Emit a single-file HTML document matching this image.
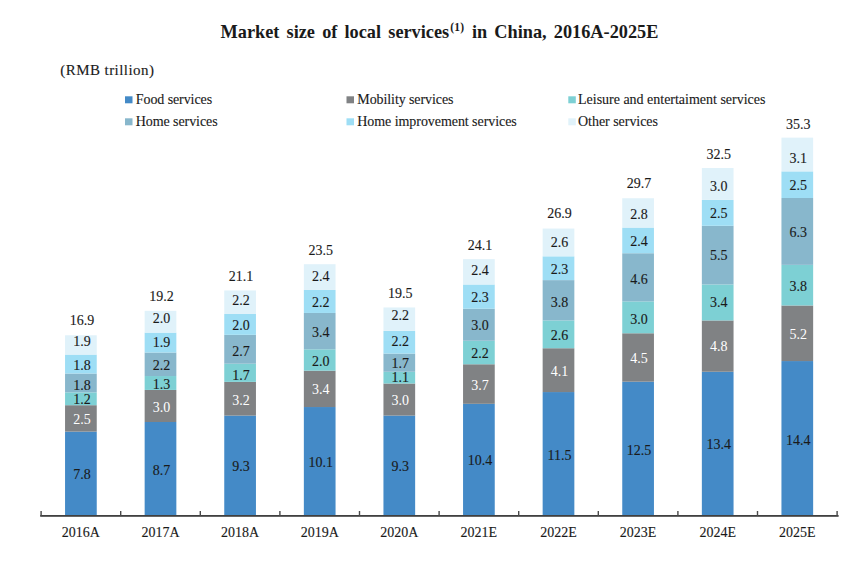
<!DOCTYPE html>
<html><head><meta charset="utf-8"><style>
html,body{margin:0;padding:0;background:#fff;width:865px;height:561px;overflow:hidden}
svg{display:block}
text{font-family:"Liberation Serif",serif;fill:#1a1a1a}
.v,.c,.l,.u{stroke:#1a1a1a;stroke-width:0.12px}

.v{font-size:14px;text-anchor:middle}
.vw{font-size:14px;text-anchor:middle;fill:#fff}
.c{font-size:14px;text-anchor:middle}
.l{font-size:14px}
.ti{font-size:18.3px;font-weight:bold;word-spacing:2.6px}
.u{font-size:15px}
</style></head><body>
<svg width="865" height="561" viewBox="0 0 865 561">
<text x="220.5" y="37.8" class="ti">Market size of local services</text>
<text x="450.2" y="30.6" class="ti" style="font-size:11.5px" textLength="14" lengthAdjust="spacing">(1)</text>
<text x="471.9" y="37.8" class="ti">in China, 2016A-2025E</text>
<text x="60.3" y="74.7" class="u" textLength="93.6" lengthAdjust="spacing">(RMB trillion)</text>
<rect x="65.05" y="431.62" width="31.70" height="83.38" fill="#448AC7"/>
<text x="81.90" y="479.01" class="v">7.8</text>
<rect x="65.05" y="405.19" width="31.70" height="26.43" fill="#808284"/>
<text x="81.90" y="424.06" class="vw">2.5</text>
<rect x="65.05" y="392.37" width="31.70" height="12.83" fill="#7DD0D4"/>
<text x="81.90" y="404.28" class="v">1.2</text>
<rect x="65.05" y="373.52" width="31.70" height="18.84" fill="#88B7CC"/>
<text x="81.90" y="390.04" class="v">1.8</text>
<rect x="65.05" y="354.58" width="31.70" height="18.94" fill="#9EDEF5"/>
<text x="81.90" y="369.90" class="v">1.8</text>
<rect x="65.05" y="335.27" width="31.70" height="19.31" fill="#E0F2FA"/>
<text x="81.90" y="345.63" class="v">1.9</text>
<text x="81.90" y="325.17" class="v">16.9</text>
<text x="80.90" y="537" class="c">2016A</text>
<rect x="144.65" y="422.00" width="31.70" height="93.00" fill="#448AC7"/>
<text x="161.50" y="474.70" class="v">8.7</text>
<rect x="144.65" y="389.93" width="31.70" height="32.07" fill="#808284"/>
<text x="161.50" y="412.16" class="vw">3.0</text>
<rect x="144.65" y="376.03" width="31.70" height="13.90" fill="#7DD0D4"/>
<text x="161.50" y="388.88" class="v">1.3</text>
<rect x="144.65" y="352.51" width="31.70" height="23.52" fill="#88B7CC"/>
<text x="161.50" y="370.07" class="v">2.2</text>
<rect x="144.65" y="332.60" width="31.70" height="19.91" fill="#9EDEF5"/>
<text x="161.50" y="346.96" class="v">1.9</text>
<rect x="144.65" y="310.82" width="31.70" height="21.78" fill="#E0F2FA"/>
<text x="161.50" y="323.31" class="v">2.0</text>
<text x="161.50" y="301.22" class="v">19.2</text>
<text x="160.50" y="537" class="c">2017A</text>
<rect x="224.25" y="415.58" width="31.70" height="99.42" fill="#448AC7"/>
<text x="241.10" y="471.49" class="v">9.3</text>
<rect x="224.25" y="381.88" width="31.70" height="33.71" fill="#808284"/>
<text x="241.10" y="404.68" class="vw">3.2</text>
<rect x="224.25" y="363.70" width="31.70" height="18.17" fill="#7DD0D4"/>
<text x="241.10" y="379.79" class="v">1.7</text>
<rect x="224.25" y="334.84" width="31.70" height="28.86" fill="#88B7CC"/>
<text x="241.10" y="355.87" class="v">2.7</text>
<rect x="224.25" y="313.96" width="31.70" height="20.88" fill="#9EDEF5"/>
<text x="241.10" y="329.55" class="v">2.0</text>
<rect x="224.25" y="290.44" width="31.70" height="23.52" fill="#E0F2FA"/>
<text x="241.10" y="305.40" class="v">2.2</text>
<text x="241.10" y="280.94" class="v">21.1</text>
<text x="240.10" y="537" class="c">2018A</text>
<rect x="303.85" y="407.03" width="31.70" height="107.97" fill="#448AC7"/>
<text x="320.70" y="467.22" class="v">10.1</text>
<rect x="303.85" y="370.69" width="31.70" height="36.35" fill="#808284"/>
<text x="320.70" y="394.36" class="vw">3.4</text>
<rect x="303.85" y="349.31" width="31.70" height="21.38" fill="#7DD0D4"/>
<text x="320.70" y="365.50" class="v">2.0</text>
<rect x="303.85" y="312.96" width="31.70" height="36.35" fill="#88B7CC"/>
<text x="320.70" y="336.73" class="v">3.4</text>
<rect x="303.85" y="289.94" width="31.70" height="23.02" fill="#9EDEF5"/>
<text x="320.70" y="306.80" class="v">2.2</text>
<rect x="303.85" y="264.19" width="31.70" height="25.76" fill="#E0F2FA"/>
<text x="320.70" y="281.21" class="v">2.4</text>
<text x="320.70" y="255.29" class="v">23.5</text>
<text x="319.70" y="537" class="c">2019A</text>
<rect x="383.45" y="415.58" width="31.70" height="99.42" fill="#448AC7"/>
<text x="400.30" y="471.49" class="v">9.3</text>
<rect x="383.45" y="383.51" width="31.70" height="32.07" fill="#808284"/>
<text x="400.30" y="405.45" class="vw">3.0</text>
<rect x="383.45" y="371.75" width="31.70" height="11.76" fill="#7DD0D4"/>
<text x="400.30" y="382.43" class="v">1.1</text>
<rect x="383.45" y="353.58" width="31.70" height="18.17" fill="#88B7CC"/>
<text x="400.30" y="367.87" class="v">1.7</text>
<rect x="383.45" y="330.86" width="31.70" height="22.72" fill="#9EDEF5"/>
<text x="400.30" y="346.32" class="v">2.2</text>
<rect x="383.45" y="307.44" width="31.70" height="23.42" fill="#E0F2FA"/>
<text x="400.30" y="320.20" class="v">2.2</text>
<text x="400.30" y="297.74" class="v">19.5</text>
<text x="399.30" y="537" class="c">2020A</text>
<rect x="463.05" y="403.82" width="31.70" height="111.18" fill="#448AC7"/>
<text x="479.90" y="465.11" class="v">10.4</text>
<rect x="463.05" y="364.27" width="31.70" height="39.55" fill="#808284"/>
<text x="479.90" y="389.85" class="vw">3.7</text>
<rect x="463.05" y="340.75" width="31.70" height="23.52" fill="#7DD0D4"/>
<text x="479.90" y="358.21" class="v">2.2</text>
<rect x="463.05" y="308.68" width="31.70" height="32.07" fill="#88B7CC"/>
<text x="479.90" y="330.42" class="v">3.0</text>
<rect x="463.05" y="284.50" width="31.70" height="24.19" fill="#9EDEF5"/>
<text x="479.90" y="301.59" class="v">2.3</text>
<rect x="463.05" y="259.14" width="31.70" height="25.36" fill="#E0F2FA"/>
<text x="479.90" y="274.87" class="v">2.4</text>
<text x="479.90" y="249.94" class="v">24.1</text>
<text x="478.90" y="537" class="c">2021E</text>
<rect x="542.65" y="392.06" width="31.70" height="122.94" fill="#448AC7"/>
<text x="559.50" y="460.23" class="v">11.5</text>
<rect x="542.65" y="348.24" width="31.70" height="43.83" fill="#808284"/>
<text x="559.50" y="376.25" class="vw">4.1</text>
<rect x="542.65" y="320.44" width="31.70" height="27.79" fill="#7DD0D4"/>
<text x="559.50" y="340.14" class="v">2.6</text>
<rect x="542.65" y="280.12" width="31.70" height="40.32" fill="#88B7CC"/>
<text x="559.50" y="306.73" class="v">3.8</text>
<rect x="542.65" y="256.33" width="31.70" height="23.79" fill="#9EDEF5"/>
<text x="559.50" y="273.93" class="v">2.3</text>
<rect x="542.65" y="228.54" width="31.70" height="27.79" fill="#E0F2FA"/>
<text x="559.50" y="246.54" class="v">2.6</text>
<text x="559.50" y="218.44" class="v">26.9</text>
<text x="558.50" y="537" class="c">2022E</text>
<rect x="622.25" y="381.68" width="31.70" height="133.32" fill="#448AC7"/>
<text x="639.10" y="455.39" class="v">12.5</text>
<rect x="622.25" y="333.27" width="31.70" height="48.41" fill="#808284"/>
<text x="639.10" y="362.52" class="vw">4.5</text>
<rect x="622.25" y="301.40" width="31.70" height="31.87" fill="#7DD0D4"/>
<text x="639.10" y="323.83" class="v">3.0</text>
<rect x="622.25" y="253.23" width="31.70" height="48.17" fill="#88B7CC"/>
<text x="639.10" y="283.71" class="v">4.6</text>
<rect x="622.25" y="227.57" width="31.70" height="25.66" fill="#9EDEF5"/>
<text x="639.10" y="246.40" class="v">2.4</text>
<rect x="622.25" y="198.24" width="31.70" height="29.33" fill="#E0F2FA"/>
<text x="639.10" y="218.60" class="v">2.8</text>
<text x="639.10" y="188.44" class="v">29.7</text>
<text x="638.10" y="537" class="c">2023E</text>
<rect x="701.85" y="371.75" width="31.70" height="143.25" fill="#448AC7"/>
<text x="718.70" y="448.58" class="v">13.4</text>
<rect x="701.85" y="320.44" width="31.70" height="51.31" fill="#808284"/>
<text x="718.70" y="350.70" class="vw">4.8</text>
<rect x="701.85" y="284.50" width="31.70" height="35.95" fill="#7DD0D4"/>
<text x="718.70" y="307.47" class="v">3.4</text>
<rect x="701.85" y="225.80" width="31.70" height="58.69" fill="#88B7CC"/>
<text x="718.70" y="260.30" class="v">5.5</text>
<rect x="701.85" y="199.88" width="31.70" height="25.92" fill="#9EDEF5"/>
<text x="718.70" y="217.94" class="v">2.5</text>
<rect x="701.85" y="168.01" width="31.70" height="31.87" fill="#E0F2FA"/>
<text x="718.70" y="190.84" class="v">3.0</text>
<text x="718.70" y="158.81" class="v">32.5</text>
<text x="717.70" y="537" class="c">2024E</text>
<rect x="781.45" y="361.06" width="31.70" height="153.94" fill="#448AC7"/>
<text x="798.30" y="444.83" class="v">14.4</text>
<rect x="781.45" y="305.48" width="31.70" height="55.59" fill="#808284"/>
<text x="798.30" y="339.27" class="vw">5.2</text>
<rect x="781.45" y="264.85" width="31.70" height="40.62" fill="#7DD0D4"/>
<text x="798.30" y="291.16" class="v">3.8</text>
<rect x="781.45" y="198.01" width="31.70" height="66.85" fill="#88B7CC"/>
<text x="798.30" y="237.18" class="v">6.3</text>
<rect x="781.45" y="171.38" width="31.70" height="26.62" fill="#9EDEF5"/>
<text x="798.30" y="189.64" class="v">2.5</text>
<rect x="781.45" y="137.64" width="31.70" height="33.74" fill="#E0F2FA"/>
<text x="798.30" y="163.21" class="v">3.1</text>
<text x="798.30" y="129.14" class="v">35.3</text>
<text x="797.30" y="537" class="c">2025E</text>
<rect x="40.2" y="515" width="798.4" height="1.8" fill="#404040"/>
<rect x="40.40" y="511" width="1.4" height="5" fill="#4a4a4a"/>
<rect x="120.00" y="511" width="1.4" height="5" fill="#4a4a4a"/>
<rect x="199.60" y="511" width="1.4" height="5" fill="#4a4a4a"/>
<rect x="279.20" y="511" width="1.4" height="5" fill="#4a4a4a"/>
<rect x="358.80" y="511" width="1.4" height="5" fill="#4a4a4a"/>
<rect x="438.40" y="511" width="1.4" height="5" fill="#4a4a4a"/>
<rect x="518.00" y="511" width="1.4" height="5" fill="#4a4a4a"/>
<rect x="597.60" y="511" width="1.4" height="5" fill="#4a4a4a"/>
<rect x="677.20" y="511" width="1.4" height="5" fill="#4a4a4a"/>
<rect x="756.80" y="511" width="1.4" height="5" fill="#4a4a4a"/>
<rect x="836.40" y="511" width="1.4" height="5" fill="#4a4a4a"/>
<rect x="125" y="96.3" width="7.5" height="7" fill="#448AC7"/>
<text x="135.8" y="103.7" class="l" textLength="76.3" lengthAdjust="spacing">Food services</text>
<rect x="346.5" y="96.3" width="7.5" height="7" fill="#808284"/>
<text x="357.3" y="103.7" class="l" textLength="96.2" lengthAdjust="spacing">Mobility services</text>
<rect x="568.3" y="96.3" width="7.5" height="7" fill="#7DD0D4"/>
<text x="578.0" y="103.7" class="l" textLength="187.4" lengthAdjust="spacing">Leisure and entertaiment services</text>
<rect x="125" y="118.3" width="7.5" height="7" fill="#88B7CC"/>
<text x="135.8" y="125.7" class="l" textLength="81.8" lengthAdjust="spacing">Home services</text>
<rect x="346.5" y="118.3" width="7.5" height="7" fill="#9EDEF5"/>
<text x="357.3" y="125.7" class="l" textLength="159.5" lengthAdjust="spacing">Home improvement services</text>
<rect x="568.3" y="118.3" width="7.5" height="7" fill="#E0F2FA"/>
<text x="578.0" y="125.7" class="l" textLength="80.0" lengthAdjust="spacing">Other services</text>
</svg>
</body></html>
